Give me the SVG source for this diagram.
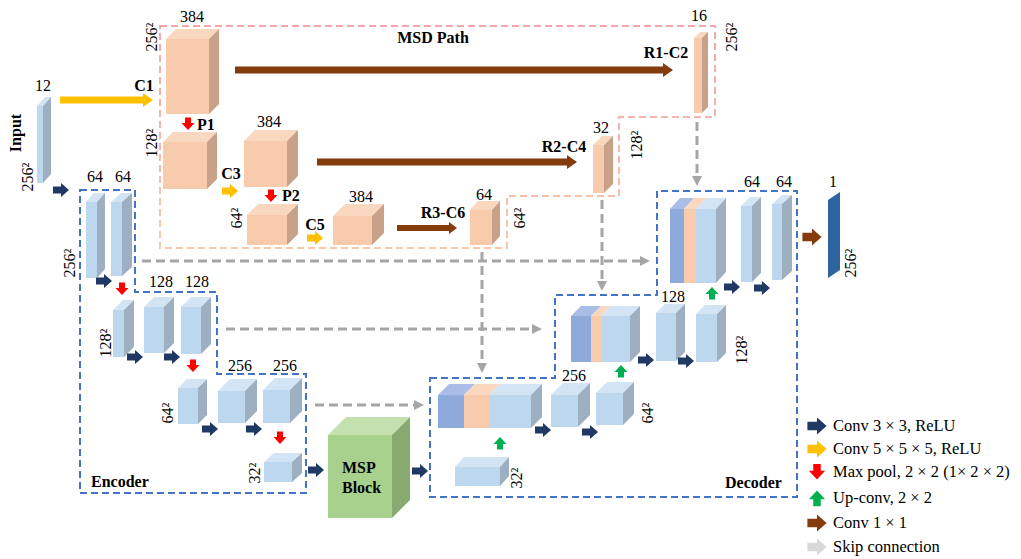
<svg xmlns="http://www.w3.org/2000/svg" width="1021" height="559" viewBox="0 0 1021 559">
<style>
text{font-family:"Liberation Serif","Times New Roman",serif;font-size:16px;fill:#000}
.b{font-weight:bold}
.m{text-anchor:middle}
.lg{font-size:16.5px}
.pf{fill:#f8cbad}.pt{fill:#fad8c0}.ps{fill:#c9a088}
.bf{fill:#bdd7ee}.bt{fill:#d3e4f4}.bs{fill:#9eafc2}
.df{fill:#8eaadb}.dt{fill:#a9bde6}
.gf{fill:#a9d18e}.gt{fill:#c3e0ae}.gs{fill:#88aa70}
.dash{fill:none;stroke:#4472c4;stroke-width:2;stroke-dasharray:7 4}
.skip{fill:none;stroke:#a6a6a6;stroke-width:3;stroke-dasharray:9 5}
.cb{fill:#203864}.cy{fill:#ffc000}.cr{fill:#ff0000}.cg{fill:#00b050}.cn{fill:#843c0c}.cl{fill:#d9d9d9}
</style>
<defs>
<path id="ra" d="M-8,-3.5 H0 V-7 L8,0 L0,7 V3.5 H-8 Z"/>
<path id="da" d="M-3,-6.5 H3 V-1 H6.5 L0,6 L-6.5,-1 H-3 Z"/>
<linearGradient id="pg" gradientUnits="userSpaceOnUse" x1="0" y1="26" x2="0" y2="248">
<stop offset="0" stop-color="#f4a7aa"/><stop offset="0.5" stop-color="#f6b6b0"/><stop offset="1" stop-color="#f8c8a8"/>
</linearGradient>
<marker id="gh" viewBox="0 0 10 10" refX="0" refY="5" markerWidth="10" markerHeight="10" markerUnits="userSpaceOnUse" orient="auto">
<path d="M0,0 L10,5 L0,10 Z" fill="#a6a6a6"/>
</marker>
</defs>
<rect width="1021" height="559" fill="#fff"/>

<g id="frames">
<path d="M160,26 H715 V117 H619 V196 H507 V248 H160 Z" fill="none" stroke="url(#pg)" stroke-width="2" stroke-dasharray="7 4"/>
<path class="dash" d="M80,190 H135 V292 H217 V374 H306 V493 H80 Z"/>
<path class="dash" d="M430,378 H555 V295 H657 V191 H797 V497 H430 Z"/>
</g>

<g id="input">
<rect class="bf" x="37" y="106" width="6" height="77"/>
<polygon class="bt" points="37,106 45,97 51,97 43,106"/>
<polygon class="bs" points="43,106 51,97 51,174 43,183"/>
</g>

<g id="msd-c1">
<rect class="pf" x="166" y="39" width="43" height="75"/>
<polygon class="pt" points="166,39 176,29 219,29 209,39"/>
<polygon class="ps" points="209,39 219,29 219,104 209,114"/>
</g>
<g id="msd-p1">
<rect class="pf" x="163" y="142" width="44" height="47"/>
<polygon class="pt" points="163,142 173,132 217,132 207,142"/>
<polygon class="ps" points="207,142 217,132 217,179 207,189"/>
</g>
<g id="msd-c3">
<rect class="pf" x="244" y="141" width="43" height="46"/>
<polygon class="pt" points="244,141 255,130 298,130 287,141"/>
<polygon class="ps" points="287,141 298,130 298,176 287,187"/>
</g>
<g id="msd-p2">
<rect class="pf" x="247" y="215" width="40" height="30"/>
<polygon class="pt" points="247,215 258,204 298,204 287,215"/>
<polygon class="ps" points="287,215 298,204 298,234 287,245"/>
</g>
<g id="msd-c5">
<rect class="pf" x="333" y="216" width="39" height="29"/>
<polygon class="pt" points="333,216 345,204 384,204 372,216"/>
<polygon class="ps" points="372,216 384,204 384,233 372,245"/>
</g>
<g id="msd-r3c6">
<rect class="pf" x="470" y="210" width="22" height="35"/>
<polygon class="pt" points="470,210 478,201 500,201 492,210"/>
<polygon class="ps" points="492,210 500,201 500,236 492,245"/>
</g>
<g id="msd-r2c4">
<rect class="pf" x="593" y="145" width="11" height="48"/>
<polygon class="pt" points="593,145 602,136 613,136 604,145"/>
<polygon class="ps" points="604,145 613,136 613,184 604,193"/>
</g>
<g id="msd-r1c2">
<rect class="pf" x="694" y="38" width="8" height="75"/>
<polygon class="pt" points="694,38 700,32 708,32 702,38"/>
<polygon class="ps" points="702,38 708,32 708,107 702,113"/>
</g>

<g id="enc-1a">
<rect class="bf" x="86" y="202" width="11" height="76"/>
<polygon class="bt" points="86,202 94,193 105,193 97,202"/>
<polygon class="bs" points="97,202 105,193 105,269 97,278"/>
</g>
<g id="enc-1b">
<rect class="bf" x="111" y="202" width="11" height="74"/>
<polygon class="bt" points="111,202 121,193 132,193 122,202"/>
<polygon class="bs" points="122,202 132,193 132,267 122,276"/>
</g>
<g id="enc-2a">
<rect class="bf" x="113" y="310" width="11" height="47"/>
<polygon class="bt" points="113,310 123,300 134,300 124,310"/>
<polygon class="bs" points="124,310 134,300 134,347 124,357"/>
</g>
<g id="enc-2b">
<rect class="bf" x="144" y="307" width="20" height="46"/>
<polygon class="bt" points="144,307 154,297 174,297 164,307"/>
<polygon class="bs" points="164,307 174,297 174,343 164,353"/>
</g>
<g id="enc-2c">
<rect class="bf" x="181" y="307" width="20" height="47"/>
<polygon class="bt" points="181,307 191,297 211,297 201,307"/>
<polygon class="bs" points="201,307 211,297 211,344 201,354"/>
</g>
<g id="enc-3a">
<rect class="bf" x="178" y="388" width="20" height="36"/>
<polygon class="bt" points="178,388 187,379 207,379 198,388"/>
<polygon class="bs" points="198,388 207,379 207,415 198,424"/>
</g>
<g id="enc-3b">
<rect class="bf" x="218" y="391" width="27" height="32"/>
<polygon class="bt" points="218,391 230,379 257,379 245,391"/>
<polygon class="bs" points="245,391 257,379 257,411 245,423"/>
</g>
<g id="enc-3c">
<rect class="bf" x="263" y="390" width="27" height="33"/>
<polygon class="bt" points="263,390 275,378 302,378 290,390"/>
<polygon class="bs" points="290,390 302,378 302,411 290,423"/>
</g>
<g id="enc-4">
<rect class="bf" x="264" y="462" width="28" height="20"/>
<polygon class="bt" points="264,462 274,453 302,453 292,462"/>
<polygon class="bs" points="292,462 302,453 302,473 292,482"/>
</g>

<g id="msp">
<rect class="gf" x="328" y="435" width="64" height="83"/>
<polygon class="gt" points="328,435 346,417 410,417 392,435"/>
<polygon class="gs" points="392,435 410,417 410,500 392,518"/>
<text class="b" x="342" y="473">MSP</text>
<text class="b" x="342" y="493">Block</text>
</g>

<g id="dec-3cat">
<rect class="df" x="438" y="395" width="26" height="33"/>
<rect class="pf" x="464" y="395" width="25" height="33"/>
<rect class="bf" x="489" y="395" width="42" height="33"/>
<polygon class="dt" points="438,395 449,384 475,384 464,395"/>
<polygon class="pt" points="464,395 475,384 500,384 489,395"/>
<polygon class="bt" points="489,395 500,384 542,384 531,395"/>
<polygon class="bs" points="531,395 542,384 542,417 531,428"/>
</g>
<g id="dec-3b">
<rect class="bf" x="551" y="395" width="27" height="32"/>
<polygon class="bt" points="551,395 563,383 590,383 578,395"/>
<polygon class="bs" points="578,395 590,383 590,415 578,427"/>
</g>
<g id="dec-3c">
<rect class="bf" x="596" y="393" width="27" height="32"/>
<polygon class="bt" points="596,393 607,382 634,382 623,393"/>
<polygon class="bs" points="623,393 634,382 634,414 623,425"/>
</g>
<g id="dec-4">
<rect class="bf" x="455" y="467" width="45" height="19"/>
<polygon class="bt" points="455,467 464,457 509,457 500,467"/>
<polygon class="bs" points="500,467 509,457 509,476 500,486"/>
</g>
<g id="dec-2cat">
<rect class="df" x="571" y="316" width="20" height="46"/>
<rect class="pf" x="591" y="316" width="10" height="46"/>
<rect class="bf" x="601" y="316" width="29" height="46"/>
<polygon class="dt" points="571,316 581,306 601,306 591,316"/>
<polygon class="pt" points="591,316 601,306 611,306 601,316"/>
<polygon class="bt" points="601,316 611,306 640,306 630,316"/>
<polygon class="bs" points="630,316 640,306 640,352 630,362"/>
</g>
<g id="dec-2b">
<rect class="bf" x="656" y="313" width="20" height="48"/>
<polygon class="bt" points="656,313 665,304 685,304 676,313"/>
<polygon class="bs" points="676,313 685,304 685,352 676,361"/>
</g>
<g id="dec-2c">
<rect class="bf" x="696" y="314" width="21" height="48"/>
<polygon class="bt" points="696,314 705,305 726,305 717,314"/>
<polygon class="bs" points="717,314 726,305 726,353 717,362"/>
</g>
<g id="dec-1cat">
<rect class="df" x="670" y="209" width="14" height="74"/>
<rect class="pf" x="684" y="209" width="12" height="74"/>
<rect class="bf" x="696" y="209" width="20" height="74"/>
<polygon class="dt" points="670,209 680,198 694,198 684,209"/>
<polygon class="pt" points="684,209 694,198 706,198 696,209"/>
<polygon class="bt" points="696,209 706,198 726,198 716,209"/>
<polygon class="bs" points="716,209 726,198 726,272 716,283"/>
</g>
<g id="dec-1b">
<rect class="bf" x="741" y="206" width="11" height="76"/>
<polygon class="bt" points="741,206 750,197 761,197 752,206"/>
<polygon class="bs" points="752,206 761,197 761,273 752,282"/>
</g>
<g id="dec-1c">
<rect class="bf" x="772" y="204" width="10" height="76"/>
<polygon class="bt" points="772,204 782,195 792,195 782,204"/>
<polygon class="bs" points="782,204 792,195 792,271 782,280"/>
</g>
<g id="output">
<polygon fill="#2e64a0" points="828,200 840,192 840,270 828,278"/>
</g>

<g id="connectors">
<path class="skip" d="M142,261 H640" marker-end="url(#gh)"/>
<path class="skip" d="M226,329 H532" marker-end="url(#gh)"/>
<path class="skip" d="M315,405 H414" marker-end="url(#gh)"/>
<path class="skip" d="M697,122 V176" marker-end="url(#gh)"/>
<path class="skip" d="M602,200 V281" marker-end="url(#gh)"/>
<path class="skip" d="M482,252 V363" marker-end="url(#gh)"/>
<path class="cy" d="M60,96.5 H143 V93 L153,100 L143,107 V103.5 H60 Z"/>
<path class="cn" d="M235,66.5 H663 V63 L673,70 L663,77 V73.5 H235 Z"/>
<path class="cn" d="M317,158.5 H567 V155 L577,162 L567,169 V165.5 H317 Z"/>
<path class="cn" d="M397,225 H449 V222 L457,228 L449,234 V231 H397 Z"/>
<use href="#ra" class="cy" x="230" y="191"/>
<use href="#ra" class="cy" x="315" y="238"/>
<use href="#da" class="cr" x="188" y="124"/>
<use href="#da" class="cr" x="271" y="196"/>
<use href="#ra" class="cb" x="61" y="190"/>
<use href="#ra" class="cb" x="104" y="281"/>
<use href="#ra" class="cb" x="135" y="357"/>
<use href="#ra" class="cb" x="172" y="357"/>
<use href="#ra" class="cb" x="210" y="429"/>
<use href="#ra" class="cb" x="254" y="429"/>
<use href="#ra" class="cb" x="316" y="470"/>
<use href="#ra" class="cb" x="420" y="471"/>
<use href="#ra" class="cb" x="543" y="430"/>
<use href="#ra" class="cb" x="590" y="432"/>
<use href="#ra" class="cb" x="646" y="360"/>
<use href="#ra" class="cb" x="686" y="361"/>
<use href="#ra" class="cb" x="732" y="287"/>
<use href="#ra" class="cb" x="762" y="288"/>
<use href="#da" class="cr" x="122" y="289"/>
<use href="#da" class="cr" x="193" y="366"/>
<use href="#da" class="cr" x="280" y="438"/>
<use href="#da" class="cg" transform="translate(500,443) rotate(180)"/>
<use href="#da" class="cg" transform="translate(621,371) rotate(180)"/>
<use href="#da" class="cg" transform="translate(712,293) rotate(180)"/>
<use href="#ra" class="cn" transform="translate(812,237) scale(1.2)"/>
</g>

<g id="labels">
<text class="m" x="43" y="91">12</text>
<text class="b m" transform="translate(21,133) rotate(-90)">Input</text>
<text class="m" transform="translate(33,177) rotate(-90)">256²</text>
<text class="b m" x="144" y="91">C1</text>
<text class="m" x="192" y="22">384</text>
<text class="m" transform="translate(157,37) rotate(-90)">256²</text>
<text class="b" x="197" y="130">P1</text>
<text class="m" transform="translate(157,143) rotate(-90)">128²</text>
<text class="m" x="269" y="127">384</text>
<text class="b m" x="231" y="179">C3</text>
<text class="b" x="282" y="201">P2</text>
<text class="m" transform="translate(242,218) rotate(-90)">64²</text>
<text class="b m" x="315" y="230">C5</text>
<text class="b m" x="433" y="43">MSD Path</text>
<text class="b m" x="666" y="58">R1-C2</text>
<text class="m" x="699" y="21">16</text>
<text class="m" transform="translate(737,37) rotate(-90)">256²</text>
<text class="b m" x="564" y="152">R2-C4</text>
<text class="m" x="601" y="133">32</text>
<text class="m" transform="translate(642,145) rotate(-90)">128²</text>
<text class="m" x="361" y="202">384</text>
<text class="b m" x="443" y="218">R3-C6</text>
<text class="m" x="484" y="200">64</text>
<text class="m" transform="translate(525,218) rotate(-90)">64²</text>
<text class="m" x="95" y="182">64</text>
<text class="m" x="123" y="182">64</text>
<text class="m" transform="translate(75,263) rotate(-90)">256²</text>
<text class="m" x="161" y="287">128</text>
<text class="m" x="197" y="287">128</text>
<text class="m" transform="translate(111,343) rotate(-90)">128²</text>
<text class="m" x="240" y="371">256</text>
<text class="m" x="285" y="371">256</text>
<text class="m" transform="translate(173,413) rotate(-90)">64²</text>
<text class="m" transform="translate(260,473) rotate(-90)">32²</text>
<text class="b" x="91" y="487">Encoder</text>
<text class="m" x="574" y="381">256</text>
<text class="m" transform="translate(653,413) rotate(-90)">64²</text>
<text class="m" transform="translate(522,478) rotate(-90)">32²</text>
<text class="m" x="673" y="302">128</text>
<text class="m" transform="translate(747,350) rotate(-90)">128²</text>
<text class="m" x="752" y="187">64</text>
<text class="m" x="784" y="187">64</text>
<text class="m" x="833" y="187">1</text>
<text class="m" transform="translate(856,263) rotate(-90)">256²</text>
<text class="b" x="725" y="488">Decoder</text>
</g>

<g id="legend">
<use href="#ra" class="cb" transform="translate(817,426) scale(1.2)"/>
<use href="#ra" class="cy" transform="translate(817,449) scale(1.2)"/>
<use href="#da" class="cr" transform="translate(817,472) scale(1.25)"/>
<use href="#da" class="cg" transform="translate(817,498) rotate(180) scale(1.25)"/>
<use href="#ra" class="cn" transform="translate(817,523) scale(1.2)"/>
<use href="#ra" class="cl" transform="translate(817,547) scale(1.2)"/>
<text class="lg" x="833" y="431">Conv 3 × 3, ReLU</text>
<text class="lg" x="833" y="454">Conv 5 × 5 × 5, ReLU</text>
<text class="lg" x="833" y="477">Max pool, 2 × 2 (1× 2 × 2)</text>
<text class="lg" x="833" y="503">Up-conv, 2 × 2</text>
<text class="lg" x="833" y="528">Conv 1 × 1</text>
<text class="lg" x="833" y="552">Skip connection</text>
</g>
</svg>
